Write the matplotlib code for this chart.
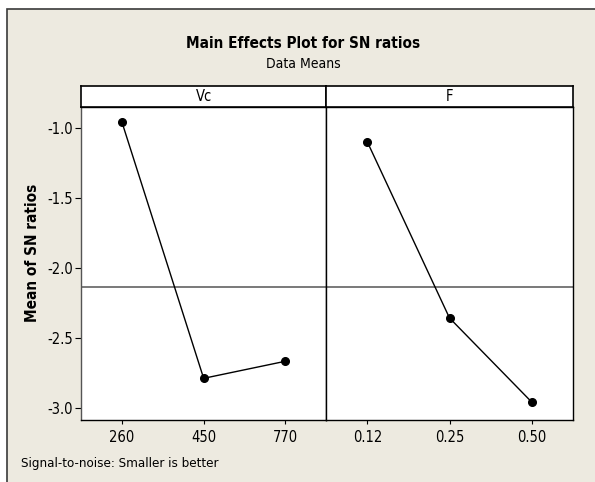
import matplotlib
matplotlib.use("Agg")
import matplotlib.pyplot as plt
from matplotlib.patches import Rectangle
import numpy as np

plt.rcParams['font.family'] = ['DejaVu Sans']
plt.rcParams['font.stretch'] = 'condensed'
plt.rcParams['axes.unicode_minus'] = False

# ---- data ----
factors = ["Vc", "F"]
vc_levels = ["260", "450", "770"]
vc_means = [-0.955, -2.786, -2.664]
f_levels = ["0.12", "0.25", "0.50"]
f_means = [-1.098, -2.355, -2.955]
y_ticks = [-1.0, -1.5, -2.0, -2.5, -3.0]

title = "Main Effects Plot for SN ratios"
subtitle = "Data Means"
ylabel = "Mean of SN ratios"
footnote = "Signal-to-noise: Smaller is better"

grand_mean = np.mean(vc_means + f_means)

W, H = 595, 482
fig = plt.figure(figsize=(W / 100, H / 100), dpi=100, facecolor="white")

bg = "#EDEAE0"
# outer frame
fig.patches.append(Rectangle((7 / W, -0.2), 1.2, 1 - 9 / H + 0.2,
                             transform=fig.transFigure, facecolor=bg,
                             edgecolor="#3a3a3a", linewidth=1.2, zorder=-10))

def fx(px):
    return px / W

def fy(py):
    return 1 - py / H

left, mid, right = 81, 326.3, 572.7
top_hdr, top_plot, bottom = 85.7, 106.7, 420

ax1 = fig.add_axes([fx(left), fy(bottom), fx(mid) - fx(left), fy(top_plot) - fy(bottom)])
ax2 = fig.add_axes([fx(mid), fy(bottom), fx(right) - fx(mid), fy(top_plot) - fy(bottom)])
h1 = fig.add_axes([fx(left), fy(top_plot), fx(mid) - fx(left), fy(top_hdr) - fy(top_plot)])
h2 = fig.add_axes([fx(mid), fy(top_plot), fx(right) - fx(mid), fy(top_hdr) - fy(top_plot)])

ylim = (-3.0836, -0.846)
for ax, levels, means in [(ax1, vc_levels, vc_means), (ax2, f_levels, f_means)]:
    ax.set_facecolor("white")
    x = np.arange(1, len(levels) + 1)
    ax.axhline(grand_mean, color="#555555", linewidth=1.1, zorder=1)
    ax.plot(x, means, color="black", linewidth=1.0, marker="o",
            markersize=5.5, markerfacecolor="black", zorder=3)
    ax.set_xlim(0.5, 3.5)
    ax.set_ylim(*ylim)
    ax.set_xticks(x)
    ax.set_xticklabels(levels, fontsize=10.5)
    ax.tick_params(axis="x", direction="out", length=3, width=0.8, pad=4, colors="black")
    for s in ax.spines.values():
        s.set_color("black")
        s.set_linewidth(1.0)

ax1.set_yticks(y_ticks)
ax1.set_yticklabels([f"{v:.1f}" for v in y_ticks], fontsize=10.5)
ax1.tick_params(axis="y", direction="out", length=4, width=0.8, pad=2)
ax2.set_yticks([])
ax1.spines["left"].set_color("#555555")

for h, name in [(h1, factors[0]), (h2, factors[1])]:
    h.set_facecolor("white")
    h.set_xticks([])
    h.set_yticks([])
    for s in h.spines.values():
        s.set_color("black")
        s.set_linewidth(1.2)
    h.text(0.5, 0.5, name, ha="center", va="center", fontsize=10.5, transform=h.transAxes)

fig.text(fx(303), fy(43), title, ha="center", va="center", fontsize=11, fontweight="bold")
fig.text(fx(303), fy(64), subtitle, ha="center", va="center", fontsize=10)
fig.text(fx(33), fy(252.8), ylabel, ha="center", va="center", rotation=90,
         fontsize=11, fontweight="bold")
fig.text(fx(20.7), fy(463.3), footnote, ha="left", va="center", fontsize=9.5)

fig.savefig("out.png", dpi=100, facecolor="white")
